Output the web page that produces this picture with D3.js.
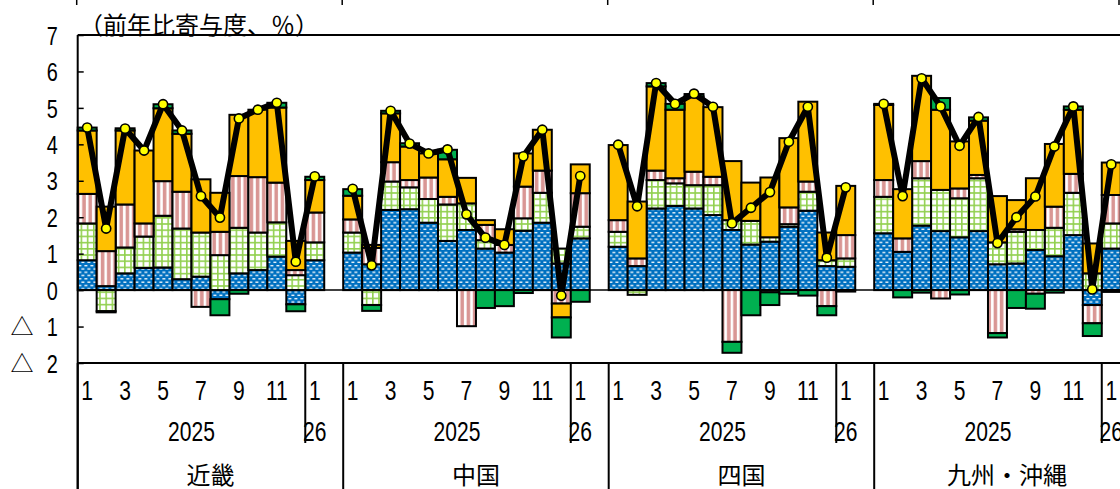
<!DOCTYPE html>
<html>
<head>
<meta charset="utf-8">
<script src="https://cdn.jsdelivr.net/npm/d3@7"></script>
<style>
  html, body { margin: 0; padding: 0; background: #fff; }
  svg { display: block; }
  .num { font-family: "Liberation Sans", Arial, "Noto Sans CJK JP", sans-serif; }
  .jp  { font-family: "Noto Sans CJK JP", sans-serif; }
</style>
</head>
<body>
<svg id="chart" width="1120" height="489"></svg>
<script>
// ---- data -------------------------------------------------------------
const regions = ["近畿", "中国", "四国", "九州・沖縄"];
const monthKeys = ["2025-01","2025-02","2025-03","2025-04","2025-05","2025-06",
                   "2025-07","2025-08","2025-09","2025-10","2025-11","2025-12","2026-01"];
const monthLabels = ["1","","3","","5","","7","","9","","11","","1"];
const yearLabels = [{ text: "2025", from: "2025-01", to: "2025-12" },
                    { text: "26",   from: "2026-01", to: "2026-01" }];
const yTicks = [-2, -1, 0, 1, 2, 3, 4, 5, 6, 7];
const titleText = "（前年比寄与度、％）";

// contributions, 13 months per region (近畿, 中国, 四国, 九州・沖縄)
const comp1 = [ // blue, dotted
  0.82, 0.11, 0.46, 0.61, 0.62, 0.30, 0.37,-0.25, 0.46, 0.55, 0.92,-0.39, 0.82,
  1.03, 0.71, 2.20, 2.22, 1.85, 1.35, 1.65, 1.14, 1.03, 1.63, 1.85, 0.73, 1.42,
  1.19, 0.66, 2.24, 2.31, 2.24, 2.06, 1.65, 1.25, 1.33, 1.74, 2.18, 0.66, 0.64,
  1.56, 1.05, 1.77, 1.62, 1.45, 1.62, 0.71, 0.73, 1.10, 0.93, 1.51,-0.41, 1.14
];
const comp2 = [ // light-green grid
  1.01,-0.58, 0.71, 0.86, 1.42, 1.39, 1.21, 0.96, 1.25, 1.03, 0.94, 0.41, 0.49,
  0.55,-0.41, 0.78, 0.60, 0.65, 1.00, 0.73, 0.23, 0.00, 0.34, 0.82, 0.41, 0.32,
  0.41,-0.13, 0.78, 0.62, 0.64, 0.82, 0.27, 0.65, 0.12, 0.07, 0.52, 0.16, 0.23,
  1.00, 0.00, 1.30, 1.13, 1.07, 1.45, 0.60, 0.87, 0.55, 0.78, 1.16, 0.46, 0.69
];
const comp3 = [ // pink stripes
  0.81, 0.96, 1.18, 0.36, 0.95, 1.01,-0.46, 0.64, 1.42, 1.52, 1.09, 0.14, 0.82,
  0.36, 0.45, 0.53, 0.20, 0.59, 0.21,-0.99, 0.42, 0.21, 0.87, 0.61,-0.37, 0.92,
  0.32, 0.21, 0.26, 0.14, 0.37, 0.23,-1.42, 0.00,-0.06, 0.46, 0.28,-0.44, 0.64,
  0.46, 0.37, 0.47,-0.23, 0.27, 0.09,-1.18, 0.07,-0.10, 0.58, 0.52,-0.50, 0.78
];
const comp4 = [ // orange
  1.74, 1.22, 2.03, 2.00, 2.00, 1.59, 1.46, 1.07, 1.68, 1.85, 2.06, 0.80, 0.89,
  0.65, 0.08, 1.34, 0.92, 0.66, 1.03, 0.70, 0.13, 0.43, 0.91, 1.12,-0.38, 0.79,
  2.06, 1.56, 2.31, 1.88, 2.06, 1.91, 1.62, 1.05, 1.64, 1.90, 2.19, 0.76, 1.35,
  2.06, 1.35, 2.34, 2.20, 1.29, 1.49, 1.27, 0.80, 1.42, 1.72, 1.76, 0.82, 0.89
];
const comp5 = [ // dark green
  0.08,-0.03, 0.06, 0.00, 0.11, 0.09, 0.00,-0.44,-0.10, 0.00, 0.13,-0.19, 0.09,
  0.18,-0.16, 0.07, 0.09, 0.00, 0.26, 0.00,-0.49,-0.44,-0.08, 0.00,-0.55,-0.32,
  0.00, 0.00, 0.09, 0.16, 0.07, 0.00,-0.30,-0.69,-0.35,-0.10,-0.15,-0.25,-0.04,
  0.03,-0.20,-0.07, 0.32,-0.12, 0.09,-0.12,-0.49,-0.41,-0.07, 0.09,-0.35,-0.05
];
const totals = [ // year-on-year change, %
  4.46, 1.69, 4.43, 3.83, 5.10, 4.38, 2.58, 1.99, 4.71, 4.95, 5.14, 0.78, 3.12,
  2.78, 0.68, 4.92, 4.02, 3.75, 3.86, 2.08, 1.44, 1.24, 3.67, 4.40,-0.15, 3.13,
  3.99, 2.30, 5.68, 5.11, 5.39, 5.03, 1.83, 2.26, 2.69, 4.07, 5.03, 0.89, 2.82,
  5.11, 2.58, 5.81, 5.04, 3.96, 4.75, 1.29, 2.00, 2.57, 3.94, 5.04, 0.02, 3.45
];

const seriesKeys = ["c1", "c2", "c3", "c4", "c5"];
const seriesFill = { c1: "url(#pBlue)", c2: "url(#pGrid)", c3: "url(#pStripe)", c4: "#FFC000", c5: "#00B050" };

const rows = [];
regions.forEach((r, ri) => monthKeys.forEach((m, mi) => {
  const i = ri * monthKeys.length + mi;
  rows.push({ region: r, month: m, c1: comp1[i], c2: comp2[i], c3: comp3[i], c4: comp4[i], c5: comp5[i], total: totals[i] });
}));

// ---- layout -----------------------------------------------------------
const W = 1120, H = 489;
const plotLeft = 77.7, regionW = 265.5, plotTop = 35, plotBottom = 363;
const NARROW = 0.78;   // horizontal squeeze for the numeric labels

const svg = d3.select("#chart");

const xRegion = d3.scaleBand().domain(regions).range([plotLeft, plotLeft + regionW * regions.length]).padding(0);
const xMonth = d3.scaleBand().domain([...monthKeys, "_"]).range([0, xRegion.bandwidth()]).padding(0);
const y = d3.scaleLinear().domain([-2, 7]).range([plotBottom, plotTop]);
const bw = xMonth.bandwidth();
const cx = d => xRegion(d.region) + xMonth(d.month) + bw / 2;

// squeeze a text horizontally about its own x anchor
function squeeze(sel) {
  sel.each(function () {
    const t = d3.select(this);
    const x = +t.attr("x") || 0;
    t.attr("transform", `translate(${x},0) scale(${NARROW},1) translate(${-x},0)`);
  });
}

// ---- patterns ---------------------------------------------------------
const defs = svg.append("defs");
const pB = defs.append("pattern").attr("id", "pBlue").attr("patternUnits", "userSpaceOnUse")
  .attr("width", 6).attr("height", 6.6);
pB.append("rect").attr("width", 6).attr("height", 6.6).attr("fill", "#0070C0");
[[0.4, 1.0], [3.4, 4.3], [-2.6, 4.3]].forEach(([px, py]) =>
  pB.append("rect").attr("x", px).attr("y", py).attr("width", 3).attr("height", 1.3).attr("fill", "#fff"));

const pG = defs.append("pattern").attr("id", "pGrid").attr("patternUnits", "userSpaceOnUse")
  .attr("width", 6.2).attr("height", 6.2);
pG.append("rect").attr("width", 6.2).attr("height", 6.2).attr("fill", "#fff");
pG.append("rect").attr("x", 0).attr("width", 1.6).attr("height", 6.2).attr("fill", "#92D050");
pG.append("rect").attr("y", 0).attr("width", 6.2).attr("height", 1.6).attr("fill", "#92D050");

const pS = defs.append("pattern").attr("id", "pStripe").attr("patternUnits", "userSpaceOnUse")
  .attr("width", 6.2).attr("height", 6);
pS.append("rect").attr("width", 6.2).attr("height", 6).attr("fill", "#fff");
pS.append("rect").attr("x", 1.6).attr("width", 3.6).attr("height", 6).attr("fill", "#D99694");

// ---- bars -------------------------------------------------------------
const stacked = d3.stack().keys(seriesKeys).offset(d3.stackOffsetDiverging)(rows);

const barG = svg.append("g");
stacked.forEach(layer => {
  barG.append("g")
    .selectAll("rect")
    .data(layer.filter(s => s[0] !== s[1]))
    .join("rect")
    .attr("x", s => xRegion(s.data.region) + xMonth(s.data.month))
    .attr("width", bw)
    .attr("y", s => y(Math.max(s[0], s[1])))
    .attr("height", s => Math.abs(y(s[0]) - y(s[1])))
    .attr("fill", seriesFill[layer.key])
    .attr("stroke", "#000")
    .attr("stroke-width", 2);
});

// zero line
svg.append("line").attr("x1", plotLeft).attr("x2", W).attr("y1", y(0)).attr("y2", y(0))
  .attr("stroke", "#000").attr("stroke-width", 1.5);

// ---- total line -------------------------------------------------------
const line = d3.line().x(cx).y(d => y(d.total));
regions.forEach(r => {
  const pts = rows.filter(d => d.region === r);
  svg.append("path").datum(pts).attr("d", line)
    .attr("fill", "none").attr("stroke", "#000").attr("stroke-width", 6)
    .attr("stroke-linejoin", "round");
});
svg.append("g").selectAll("circle").data(rows).join("circle")
  .attr("cx", cx).attr("cy", d => y(d.total)).attr("r", 4.6)
  .attr("fill", "#FFFF00").attr("stroke", "#000").attr("stroke-width", 1.6);

// ---- frame ------------------------------------------------------------
svg.append("line").attr("x1", plotLeft).attr("x2", W).attr("y1", plotTop).attr("y2", plotTop)
  .attr("stroke", "#000").attr("stroke-width", 2);
svg.append("line").attr("x1", plotLeft).attr("x2", W).attr("y1", plotBottom).attr("y2", plotBottom)
  .attr("stroke", "#000").attr("stroke-width", 2);
svg.append("line").attr("x1", plotLeft).attr("x2", plotLeft).attr("y1", plotTop).attr("y2", H)
  .attr("stroke", "#000").attr("stroke-width", 2);

// small marks along the very top edge
const topMarks = regions.map(r => xRegion(r) - 1).concat([W - 1]);
svg.append("g").selectAll("line").data(topMarks).join("line")
  .attr("x1", d => d).attr("x2", d => d).attr("y1", 0).attr("y2", 5)
  .attr("stroke", "#000").attr("stroke-width", 1.5);

// ---- y axis -----------------------------------------------------------
const yAxis = svg.append("g").attr("transform", `translate(${plotLeft},0)`)
  .call(d3.axisLeft(y).tickValues(yTicks).tickSize(-6).tickSizeOuter(0).tickPadding(20)
    .tickFormat(d => String(Math.abs(d))));
yAxis.select(".domain").remove();
yAxis.selectAll(".tick line").attr("stroke", "#000").attr("stroke-width", 1.5);
yAxis.selectAll(".tick text").attr("class", "num").attr("font-size", 25.5).attr("fill", "#000")
  .attr("dy", "0.36em").call(squeeze);
yAxis.selectAll(".tick").filter(d => d < 0).append("text")
  .attr("class", "jp").attr("x", 22 - plotLeft).attr("dy", "0.36em")
  .attr("text-anchor", "middle").attr("font-size", 23).attr("fill", "#000").text("△");

// title
svg.append("text").attr("class", "jp").attr("x", 79).attr("y", 23)
  .attr("dominant-baseline", "central").attr("font-size", 24).attr("fill", "#000").text(titleText);

// ---- x axis -----------------------------------------------------------
regions.forEach(r => {
  const g = svg.append("g").attr("transform", `translate(${xRegion(r)},${plotBottom})`);
  const ax = g.append("g").call(d3.axisBottom(xMonth)
    .tickValues(monthKeys.filter((m, i) => monthLabels[i] !== ""))
    .tickFormat(m => monthLabels[monthKeys.indexOf(m)])
    .tickSize(0).tickPadding(17.5));
  ax.select(".domain").remove();
  ax.selectAll(".tick text").attr("class", "num").attr("font-size", 27).attr("fill", "#000")
    .call(squeeze);

  yearLabels.forEach(yl => {
    const x0 = xMonth(yl.from), x1 = xMonth(yl.to) + bw;
    g.append("text").attr("class", "num").attr("x", (x0 + x1) / 2).attr("y", 432 - plotBottom)
      .attr("dominant-baseline", "central").attr("text-anchor", "middle")
      .attr("font-size", 27).attr("fill", "#000").text(yl.text).call(squeeze);
  });
  // year boundary
  const xs = xMonth(yearLabels[1].from);
  g.append("line").attr("x1", xs).attr("x2", xs).attr("y1", 0).attr("y2", 443 - plotBottom)
    .attr("stroke", "#000").attr("stroke-width", 2);
  // region boundary
  g.append("line").attr("x1", 0).attr("x2", 0).attr("y1", 0).attr("y2", H - plotBottom)
    .attr("stroke", "#000").attr("stroke-width", 2);
  g.append("text").attr("class", "jp").attr("x", xRegion.bandwidth() / 2).attr("y", 473 - plotBottom)
    .attr("dominant-baseline", "central").attr("text-anchor", "middle")
    .attr("font-size", 24).attr("fill", "#000").text(r);
});
</script>
</body>
</html>
